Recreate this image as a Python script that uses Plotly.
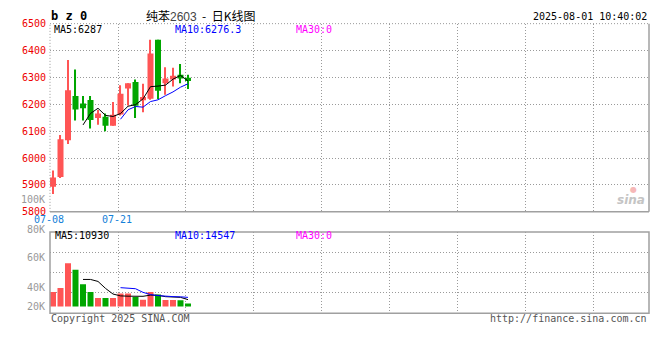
import plotly.graph_objects as go
import pandas as pd

# ---------------- data ----------------
dates = ["2025-07-08", "2025-07-09", "2025-07-10", "2025-07-11", "2025-07-14",
         "2025-07-15", "2025-07-16", "2025-07-17", "2025-07-18", "2025-07-21",
         "2025-07-22", "2025-07-23", "2025-07-24", "2025-07-25", "2025-07-28",
         "2025-07-29", "2025-07-30", "2025-07-31", "2025-08-01"]
opens  = [5893, 5930, 6066, 6231, 6203, 6216, 6149, 6154, 6120, 6162,
          6259, 6283, 6215, 6221, 6440, 6278, 6292, 6310, 6299]
highs  = [5954, 6086, 6365, 6329, 6231, 6231, 6179, 6166, 6209, 6271,
          6278, 6292, 6276, 6440, 6440, 6338, 6336, 6350, 6310]
lows   = [5866, 5926, 6052, 6140, 6140, 6110, 6124, 6100, 6120, 6158,
          6196, 6149, 6170, 6217, 6220, 6236, 6266, 6278, 6257]
closes = [5928, 6070, 6252, 6181, 6185, 6142, 6166, 6120, 6161, 6239,
          6278, 6195, 6227, 6389, 6250, 6296, 6306, 6296, 6287]
volumes = [23300, 29500, 69300, 58900, 35700, 23300, 13500, 13500, 13500, 20940,
           20940, 15140, 10800, 23000, 19300, 10200, 10300, 10100, 4750]

price_ticks = [5800, 5900, 6000, 6100, 6200, 6300, 6400, 6500]
vol_tick_labels = ["100K", "80K", "60K", "40K", "20K"]
date_label_idx = [0, 9]

title_name = "纯苯"
title_code = "2603"
title_kind = "日K线图"
stamp = "2025-08-01 10:40:02"

# ---------------- derived ----------------
idx = list(range(len(dates)))
ma5 = pd.Series(closes).rolling(5).mean()
ma10 = pd.Series(closes).rolling(10).mean()
vma5 = pd.Series(volumes).rolling(5).mean()
vma10 = pd.Series(volumes).rolling(10).mean()

RED = "#ff5555"
GREEN = "#00a600"
cols = [RED if c >= o else GREEN for o, c in zip(opens, closes)]

# page body has an 8px margin: size the figure so the page fits the window
OFF = 8
W, H = 660 - 2 * OFF, 360 - 2 * OFF
def px(x): return (x - OFF) / W
def py(y): return 1 - (y - OFF) / H

X_LEFT, X_RIGHT = 50, 649
P_TOP, P_BOT = 18, 213
V_TOP, V_BOT = 234, 318
XRANGE = [-0.4, 79.47]
GRID_DX = 9.0667
VRANGE = [-10850, 119350]

MONO = "DejaVu Sans Mono"
DOTS = "1px,2px"

fig = go.Figure()

# wicks
fig.add_trace(go.Bar(x=idx, y=[h - l for h, l in zip(highs, lows)], base=lows,
                     width=0.14, marker=dict(color=cols, line=dict(width=0)),
                     xaxis="x", yaxis="y"))
# bodies
fig.add_trace(go.Bar(x=idx, y=[max(abs(c - o), 2) for o, c in zip(opens, closes)],
                     base=[min(o, c) for o, c in zip(opens, closes)],
                     width=0.8, marker=dict(color=cols, line=dict(width=0)),
                     xaxis="x", yaxis="y"))
fig.add_trace(go.Scatter(x=idx, y=ma5, mode="lines", line=dict(color="#000000", width=1),
                         xaxis="x", yaxis="y"))
fig.add_trace(go.Scatter(x=idx, y=ma10, mode="lines", line=dict(color="#0000ff", width=1),
                         xaxis="x", yaxis="y"))

# volume
fig.add_trace(go.Bar(x=idx, y=volumes, width=0.8, marker=dict(color=cols, line=dict(width=0)),
                     xaxis="x2", yaxis="y2"))
fig.add_trace(go.Scatter(x=idx, y=vma5, mode="lines", line=dict(color="#000000", width=1),
                         xaxis="x2", yaxis="y2"))
fig.add_trace(go.Scatter(x=idx, y=vma10, mode="lines", line=dict(color="#0000ff", width=1),
                         xaxis="x2", yaxis="y2"))

GRID = "#9a9a9a"
BORDER = "#a0a0a0"

xcommon = dict(domain=[px(X_LEFT), px(X_RIGHT)], range=XRANGE, showticklabels=False,
               tick0=XRANGE[0], dtick=GRID_DX, tickmode="linear", showgrid=True,
               gridcolor=GRID, griddash=DOTS, gridwidth=1, zeroline=False,
               showline=False, ticks="", fixedrange=True)

fig.update_layout(
    width=W, height=H, margin=dict(l=0, r=0, t=0, b=0),
    paper_bgcolor="white", plot_bgcolor="white",
    showlegend=False, barmode="overlay", hovermode=False,
    xaxis=dict(**xcommon, anchor="y"),
    xaxis2=dict(**xcommon, anchor="y2", matches="x"),
    yaxis=dict(domain=[py(P_BOT), py(P_TOP)], range=[5800, 6500],
               tickmode="array", tickvals=price_ticks, ticktext=[str(t) for t in price_ticks],
               tickfont=dict(family=MONO, size=10, color="#ee0000"), ticklabelstandoff=3,
               showgrid=True, gridcolor=GRID, griddash=DOTS, gridwidth=1,
               zeroline=False, ticks="", showline=False, fixedrange=True),
    yaxis2=dict(domain=[py(V_BOT), py(V_TOP)], range=VRANGE,
                tickmode="linear", tick0=VRANGE[0], dtick=(VRANGE[1] - VRANGE[0]) / 4,
                showticklabels=False, showgrid=True, gridcolor=GRID, griddash=DOTS,
                gridwidth=1, zeroline=False, ticks="", showline=False, fixedrange=True),
)

shapes = [
    dict(type="line", xref="paper", yref="paper", x0=px(X_LEFT), x1=px(X_LEFT), y0=py(P_BOT), y1=py(P_TOP),
         line=dict(color=GRID, width=1, dash=DOTS)),
    dict(type="line", xref="paper", yref="paper", x0=px(X_LEFT), x1=px(X_RIGHT), y0=py(P_TOP), y1=py(P_TOP),
         line=dict(color=GRID, width=1, dash=DOTS)),
    dict(type="line", xref="paper", yref="paper", x0=px(X_RIGHT), x1=px(X_RIGHT), y0=py(P_BOT), y1=py(P_TOP),
         line=dict(color=BORDER, width=1.5)),
    dict(type="line", xref="paper", yref="paper", x0=px(X_LEFT), x1=px(X_RIGHT), y0=py(P_BOT), y1=py(P_BOT),
         line=dict(color=BORDER, width=1.5)),
    dict(type="rect", xref="paper", yref="paper", x0=px(X_LEFT), x1=px(X_RIGHT), y0=py(V_BOT), y1=py(V_TOP),
         line=dict(color=BORDER, width=1.5)),
]
fig.update_layout(shapes=shapes)

ann = []
def text(x, y, s, color="#000", size=10, anchor="left", family=MONO):
    ann.append(dict(x=px(x), y=py(y), xref="paper", yref="paper", text=s, showarrow=False,
                    xanchor=anchor, yanchor="middle", font=dict(family=family, size=size, color=color)))

text(49, 10, "<b>b z 0</b>", size=12)
NB = "\u00a0"
text(200, 10, title_name + "<span style='color:#444444;font-family:Liberation Sans'>" + title_code
     + "</span>" + NB * 2 + "-" + NB * 2 + title_kind,
     size=12, anchor="center", family="Noto Sans CJK SC")
text(649, 11, stamp, anchor="right")

text(52, 24, f"MA5:{ma5.iloc[-1]:.0f}")
text(173, 24, f"MA10:{ma10.iloc[-1]:.1f}", color="#0000ff")
text(294, 24, "MA30:0", color="#ff00ff")

text(53, 238, f"MA5:{vma5.iloc[-1]:.0f}")
text(173, 238, f"MA10:{vma10.iloc[-1]:.0f}", color="#0000ff")
text(294, 238, "MA30:0", color="#ff00ff")

for lab, y in zip(vol_tick_labels, [200, 231, 260, 291, 311]):
    text(47, y, lab, color="#999999", anchor="right")

for i in date_label_idx:
    ann.append(dict(x=i, y=py(221), xref="x", yref="paper", text=dates[i][5:], showarrow=False,
                    xanchor="center", yanchor="middle", xshift=-4,
                    font=dict(family=MONO, size=10, color="#1480d8")))

text(49, 324, "Copyright 2025 SINA.COM", color="#555555")
text(649, 324, "http://finance.sina.com.cn", color="#555555", anchor="right")

# watermark
text(633, 190, "●", color="#f6b8b8", size=8, anchor="center", family="DejaVu Sans")
text(631, 201, "<b><i>sina</i></b>", color="#c4c4c4", size=12, anchor="center", family="DejaVu Sans")

fig.update_layout(annotations=ann)
fig.write_html("out.html")
